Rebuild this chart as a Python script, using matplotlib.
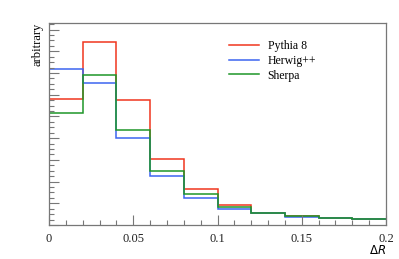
import matplotlib
matplotlib.use("Agg")
import matplotlib.pyplot as plt
import numpy as np
from matplotlib.ticker import MultipleLocator, NullFormatter

edges = [0.0, 0.02, 0.04, 0.06, 0.08, 0.10, 0.12, 0.14, 0.16, 0.18, 0.20]
pythia = [23.15, 33.7, 23.0, 12.15, 6.7, 3.75, 2.3, 1.6, 1.23, 1.05]
herwig = [28.7, 26.1, 16.0, 9.1, 5.0, 3.0, 2.2, 1.5, 1.23, 1.05]
sherpa = [20.6, 27.7, 17.5, 9.95, 5.7, 3.25, 2.2, 1.6, 1.23, 1.05]
labels = ["Pythia 8", "Herwig++", "Sherpa"]
colors = ["#f0361e", "#3c64f0", "#1e9628"]
xticks = [0, 0.05, 0.1, 0.15, 0.2]
xticklabels = ["0", "0.05", "0.1", "0.15", "0.2"]

plt.rcParams['font.family'] = ['Liberation Serif', 'DejaVu Serif']
fig = plt.figure(figsize=(3.99, 2.59), dpi=100)
ax = fig.add_axes([49/399, 1-225/259, (386-49)/399, (225-23)/259])

for vals, lab, c in zip([pythia, herwig, sherpa], labels, colors):
    ax.stairs(vals, edges, baseline=None, color=c, lw=1.1, label=lab)

ax.set_xlim(0, 0.2)
ax.set_ylim(0, 37.2)
ax.set_xticks(xticks)
ax.set_xticklabels(xticklabels, fontsize=9)
ax.xaxis.set_minor_locator(MultipleLocator(0.01))
ax.yaxis.set_major_locator(MultipleLocator(4))
ax.yaxis.set_minor_locator(MultipleLocator(1))
ax.yaxis.set_major_formatter(NullFormatter())
ax.tick_params(which='both', direction='in', color='#777777', width=0.8,
               top=False, right=False)
ax.tick_params(which='major', length=7)
ax.tick_params(which='minor', length=3.6)
ax.tick_params(axis='x', pad=6, labelcolor='#222222')
for s in ax.spines.values():
    s.set_color('#777777')
    s.set_linewidth(0.9)

fig.text(386/399, 1-251/259, r"$\Delta R$", ha='right', va='center', fontsize=8.5,
         fontfamily='DejaVu Serif')
fig.text(37/399, 1-23/259, "arbitrary", rotation=90, ha='center', va='top', fontsize=9)

leg = ax.legend(loc='upper left', bbox_to_anchor=((224-49)/337, (225-35)/202),
                frameon=False, fontsize=8.5, handlelength=2.6, handletextpad=0.7,
                labelspacing=0.25, borderaxespad=0)
fig.savefig("out.png", dpi=100)
